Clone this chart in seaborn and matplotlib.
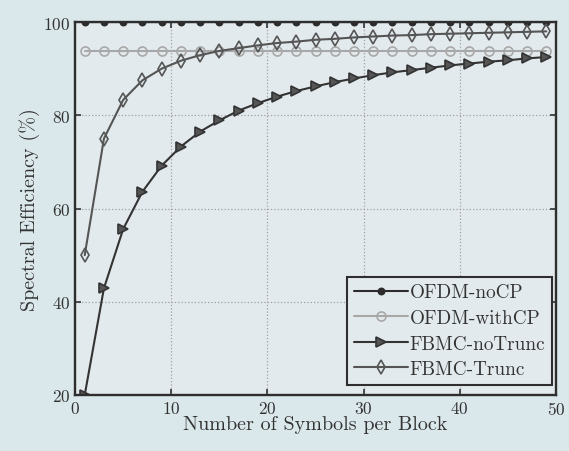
import matplotlib.pyplot as plt
import pandas as pd
import seaborn as sns

# symbols per block (markers at every odd value)
symbols = list(range(1, 50, 2))

ofdm_nocp = [100.0] * 25
ofdm_withcp = [93.8] * 25
fbmc_notrunc = [20.0, 42.9, 55.6, 63.6, 69.2, 73.3, 76.5, 78.9, 81.0, 82.6,
                84.0, 85.2, 86.2, 87.1, 87.9, 88.6, 89.2, 89.7, 90.2, 90.7,
                91.1, 91.5, 91.8, 92.2, 92.5]
fbmc_trunc = [50.0, 75.0, 83.3, 87.5, 90.0, 91.7, 92.9, 93.8, 94.4, 95.0,
              95.5, 95.8, 96.2, 96.4, 96.7, 96.9, 97.1, 97.2, 97.4, 97.5,
              97.6, 97.7, 97.8, 97.9, 98.0]

series = {
    "OFDM-noCP": ofdm_nocp,
    "OFDM-withCP": ofdm_withcp,
    "FBMC-noTrunc": fbmc_notrunc,
    "FBMC-Trunc": fbmc_trunc,
}
styles = {
    "OFDM-noCP": dict(color="#2c2c2c", marker="o", mfc="#2c2c2c", ms=4.5),
    "OFDM-withCP": dict(color="#a8a8a8", marker="o", mfc="none", ms=6.5),
    "FBMC-noTrunc": dict(color="#333333", marker=">", mfc="#555555", ms=7),
    "FBMC-Trunc": dict(color="#555555", marker="d", mfc="none", ms=7),
}

sns.set_theme(style="ticks")
plt.rcParams["font.family"] = ["cmr10", "DejaVu Serif"]
plt.rcParams["axes.formatter.use_mathtext"] = True

bg = "#dbe8eb"
fig = plt.figure(figsize=(5.69, 4.52), dpi=100, facecolor=bg)
ax = fig.add_axes([0.132, 0.124, 0.845, 0.825], facecolor="#e3eaed")

for name, vals in series.items():
    df = pd.DataFrame({"x": symbols, "y": vals})
    st = styles[name]
    sns.lineplot(data=df, x="x", y="y", ax=ax, label=name, color=st["color"],
                 marker=st["marker"], markerfacecolor=st["mfc"],
                 markeredgecolor=st["color"], markersize=st["ms"],
                 markeredgewidth=1.2, linewidth=1.5)

ax.set_xlim(0, 50)
ax.set_ylim(20, 100)
ax.set_xticks([0, 10, 20, 30, 40, 50])
ax.set_yticks([20, 40, 60, 80, 100])
ax.grid(True, color="#a0a0a0", linestyle=":", linewidth=0.9)
ax.tick_params(direction="in", top=True, right=True, length=4, width=1.2,
               labelsize=12.5, colors="#333333")
for s in ax.spines.values():
    s.set_color("#2e2e2e")
    s.set_linewidth(1.7)

ax.set_xlabel("Number of Symbols per Block", fontsize=14.5, color="#333333", labelpad=-1)
ax.set_ylabel("Spectral Efficiency (%)", fontsize=14.5, color="#333333", labelpad=2)

leg = ax.legend(loc="lower right", bbox_to_anchor=(0.992, 0.027), fontsize=13.8,
                frameon=True, fancybox=False, handlelength=2.8, handletextpad=0.1,
                borderpad=0.35, labelspacing=0.4, borderaxespad=0)
leg.get_frame().set_edgecolor("#2e2e2e")
leg.get_frame().set_linewidth(1.5)
leg.get_frame().set_facecolor("#e3eaed")
leg.get_frame().set_alpha(1)
for t in leg.get_texts():
    t.set_color("#333333")

fig.savefig("out.png", dpi=100, facecolor=bg)
